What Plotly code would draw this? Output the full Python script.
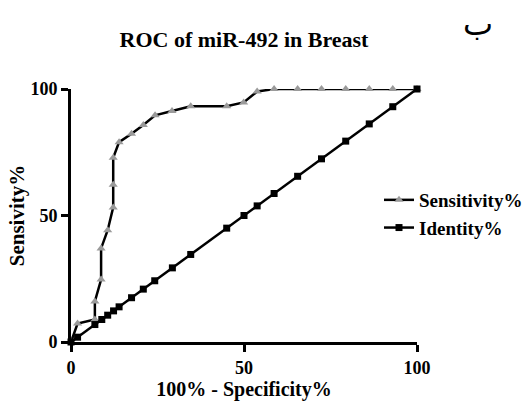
import plotly.graph_objects as go

# Data
sens_x = [0, 1.9, 6.9, 6.9, 8.7, 8.7, 10.6, 12.2, 12.2, 12.2, 13.9, 17.5, 20.9, 24.3,
          29.2, 34.6, 45.0, 49.9, 53.8, 58.7, 65.5, 72.4, 79.4, 86.2, 93.0, 100]
sens_y = [0, 7.3, 8.9, 16.0, 24.7, 37.0, 44.2, 53.2, 62.2, 72.8, 79.0, 82.3, 85.8, 89.6,
          91.3, 93.2, 93.2, 94.7, 99.0, 100, 100, 100, 100, 100, 100, 100]

ident_x = [0, 1.9, 6.9, 8.9, 10.6, 12.3, 13.9, 17.5, 20.9, 24.2, 29.3, 34.6, 45.0, 50.0,
           53.8, 58.7, 65.5, 72.4, 79.4, 86.2, 93.0, 100]
ident_y = [0, 1.9, 6.9, 8.9, 10.6, 12.3, 13.9, 17.5, 20.9, 24.2, 29.3, 34.6, 45.0, 50.0,
           53.8, 58.7, 65.5, 72.4, 79.4, 86.2, 93.0, 100]

tick_vals = [0, 50, 100]
tick_text = ["0", "50", "100"]

FONT = "Times New Roman, Liberation Serif, serif"
W, H = 529, 401
L, R, T, B = 71, 112, 89, 59
PW, PH = W - L - R, H - T - B

fig = go.Figure()
fig.add_trace(go.Scatter(
    x=sens_x, y=sens_y, mode="lines+markers", name="Sensitivity%",
    legendgroup="a",
    line=dict(color="black", width=2.5),
    marker=dict(symbol="triangle-up", size=8, color="#9a9a9a", line=dict(width=0)),
    cliponaxis=False,
))
fig.add_trace(go.Scatter(
    x=ident_x, y=ident_y, mode="lines+markers", name="Identity%",
    legendgroup="b",
    line=dict(color="black", width=2.5),
    marker=dict(symbol="square", size=7, color="black"),
    cliponaxis=False,
))

axis_common = dict(
    range=[0, 100], tickvals=tick_vals, ticktext=tick_text,
    showline=True, linecolor="black", linewidth=3,
    ticks="outside", ticklen=7, tickwidth=2.5, tickcolor="black",
    showgrid=False, zeroline=False, automargin=False,
    tickfont=dict(family=FONT, size=18, color="black", weight="bold"),
)

fig.update_layout(
    width=W, height=H,
    margin=dict(l=L, r=R, t=T, b=B, autoexpand=False),
    paper_bgcolor="white", plot_bgcolor="white",
    font=dict(family=FONT, color="black"),
    title=dict(text="ROC of miR-492 in Breast", x=244 / W, xanchor="center",
               y=1 - 39 / H, yanchor="middle", xref="container", yref="container",
               font=dict(family=FONT, size=22, color="black", weight="bold")),
    xaxis=dict(**axis_common,
               title=dict(text="100% - Specificity%", standoff=8,
                          font=dict(family=FONT, size=20, color="black", weight="bold"))),
    yaxis=dict(**axis_common,
               title=dict(text="Sensivity%", standoff=1,
                          font=dict(family=FONT, size=21, color="black", weight="bold"))),
    showlegend=True,
    legend=dict(x=(379 - L) / PW, y=(H - B - 181) / PH,
                xanchor="left", yanchor="top", bgcolor="rgba(0,0,0,0)",
                font=dict(family=FONT, size=19, color="black", weight="bold"),
                traceorder="grouped", tracegroupgap=0,
                itemwidth=30),
    annotations=[dict(text="ب", x=(478 - L) / PW, y=(H - B - 24) / PH,
                      xref="paper", yref="paper", showarrow=False,
                      xanchor="center", yanchor="middle",
                      font=dict(family="DejaVu Sans, Noto Sans, sans-serif", size=32,
                                color="black"))],
)

fig.write_html("out.html", config={"displayModeBar": False},
               post_script="document.body.style.margin='0';document.body.style.overflow='hidden';")
